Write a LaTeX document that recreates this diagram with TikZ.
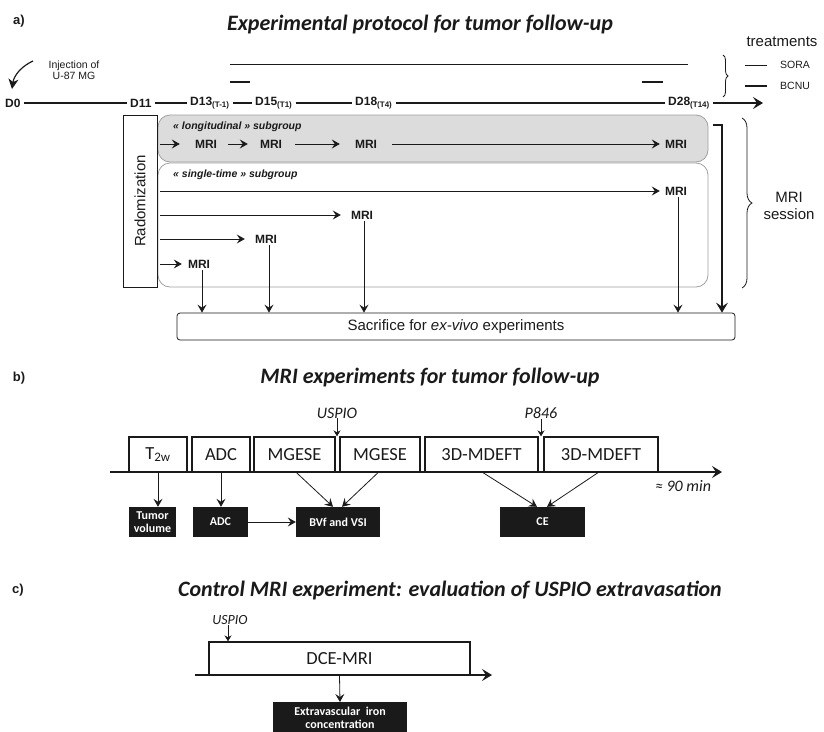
\documentclass[tikz,border=0pt]{standalone}
\usepackage{fontspec}
\setmainfont{Liberation Sans}
\newfontfamily\calfont{Carlito}
\usepackage{tikz}
\usetikzlibrary{arrows.meta,decorations.pathreplacing}
\definecolor{ink}{HTML}{1A1A1A}
\definecolor{grpfill}{HTML}{DCDCDC}
\definecolor{grpline}{HTML}{A0A0A0}
\tikzset{
  day/.style={text=ink, font=\bfseries\fontsize{12}{12}\selectfont, inner sep=3pt, anchor=west},
  mri/.style={text=ink, font=\bfseries\fontsize{12}{12}\selectfont, inner sep=2pt},
  sub/.style={text=ink, font=\bfseries\itshape\fontsize{10.5}{10.5}\selectfont, anchor=west, inner sep=0pt},
  small/.style={text=ink, font=\fontsize{10.5}{11}\selectfont, align=center, inner sep=0pt},
  big/.style={text=ink, font=\fontsize{15}{17}\selectfont, align=center, inner sep=0pt},
  ttl/.style={text=ink, font=\calfont\bfseries\itshape\fontsize{22}{22}\selectfont, inner sep=0pt},
  part/.style={text=ink, font=\bfseries\fontsize{13}{13}\selectfont, inner sep=0pt},
  inj/.style={text=ink, font=\calfont\itshape\fontsize{16}{16}\selectfont, inner sep=0pt},
  tline/.style={draw=ink, line width=1.5pt},
  arr/.style={draw=ink, line width=0.8pt, -{Stealth[length=8pt,width=9pt,inset=3pt]}},
  arrs/.style={draw=ink, line width=0.8pt, -{Stealth[length=6pt,width=7pt,inset=2pt]}},
  bigarr/.style={draw=ink, line width=1.2pt, -{Stealth[length=10pt,width=12pt,inset=4pt]}},
  grp/.style={draw=grpline, line width=0.8pt, rounded corners=12pt},
  brc/.style={draw=ink, line width=0.8pt, decorate},
  seq/.style={draw=ink, line width=1.3pt, text=ink, font=\calfont\fontsize{18.5}{18.5}\selectfont, inner sep=0pt, minimum height=35},
  res/.style={fill=ink, text=white, font=\calfont\bfseries\fontsize{12}{13}\selectfont, align=center, inner sep=1pt, minimum height=30},
}

\begin{document}
\begin{tikzpicture}[x=1pt,y=-1pt]
  \useasboundingbox (0,0) rectangle (824,731);

  % a) protocol
  \node[part] (pa) at (19,21) {a)};
  \node[ttl] (ta) at (420,25) {Experimental protocol for tumor follow-up};

  \node[small] (inj) at (74,70) {Injection of\\U-87 MG};
  \coordinate (injs) at (33,61);
  \coordinate (injt) at (12,89);
  \draw[draw=ink, line width=1.2pt, -{Stealth[length=10pt,width=10pt,inset=3pt]}] (injs) .. controls (22,66) and (14,75) .. (injt);

  \node[day] (d0) at (2,103) {D0};
  \node[day] (d11) at (127,103) {D11};
  \node[day] (d13) at (187,103) {D13\textsubscript{(T-1)}};
  \node[day] (d15) at (252,103) {D15\textsubscript{(T1)}};
  \node[day] (d18) at (352,103) {D18\textsubscript{(T4)}};
  \node[day] (d28) at (665,103) {D28\textsubscript{(T14)}};
  \coordinate (dend) at (763,103);
  \draw[tline] (d0) -- (d11);
  \draw[tline] (d11) -- (d13);
  \draw[tline] (d13) -- (d15);
  \draw[tline] (d15) -- (d18);
  \draw[tline] (d18) -- (d28);
  \draw[tline, -{Stealth[length=10pt,width=12pt,inset=4pt]}] (d28) -- (dend);

  % treatments
  \draw[draw=ink, line width=0.8pt] (230,64) -- (688,64);
  \draw[draw=ink, line width=2.6pt] (230,82) -- (250,82);
  \draw[draw=ink, line width=2.6pt] (642,82) -- (663,82);
  \draw[brc, decoration={brace,amplitude=5pt}] (723,55) -- (723,97);
  \node[big] (trt) at (782,42) {treatments};
  \draw[draw=ink, line width=0.8pt] (745,65) -- (767,65);
  \draw[draw=ink, line width=2.6pt] (745,86) -- (767,86);
  \node[small, anchor=west] (sora) at (780,65) {SORA};
  \node[small, anchor=west] (bcnu) at (780,86) {BCNU};

  % subgroups
  \draw[grp, fill=grpfill] (158,115) rectangle (708,162);
  \draw[grp] (158,163) rectangle (708,287);
  \node[big, draw=ink, line width=0.8pt, fill=white, rotate=90, minimum width=172, minimum height=34] (rnd) at (140,201) {Radomization};

  \node[sub] (lg) at (173,127) {« longitudinal » subgroup};
  \coordinate (l0) at (160,144);
  \node[mri] (l1) at (206,144) {MRI};
  \node[mri] (l2) at (271,144) {MRI};
  \node[mri] (l3) at (366,144) {MRI};
  \node[mri] (l4) at (676,144) {MRI};
  \draw[arr, shorten >=13pt] (l0) -- (l1);
  \draw[arr, shorten <=9pt, shorten >=10pt] (l1) -- (l2);
  \draw[arr, shorten <=11pt, shorten >=13pt] (l2) -- (l3);
  \draw[arr, shorten <=13pt, shorten >=3pt] (l3) -- (l4);

  \node[sub] (sg) at (173,175) {« single-time » subgroup};
  \coordinate (s0a) at (160,191);
  \coordinate (s0b) at (160,215);
  \coordinate (s0c) at (160,239);
  \coordinate (s0d) at (160,264);
  \node[mri] (s1) at (676,191) {MRI};
  \node[mri] (s2) at (362,215) {MRI};
  \node[mri] (s3) at (266,239) {MRI};
  \node[mri] (s4) at (199,264) {MRI};
  \draw[arr, shorten >=3pt] (s0a) -- (s1);
  \draw[arr, shorten >=8pt] (s0b) -- (s2);
  \draw[arr, shorten >=8pt] (s0c) -- (s3);
  \draw[arr, shorten >=4pt] (s0d) -- (s4);

  \node[big, draw=ink, line width=0.8pt, rounded corners=3pt, minimum width=558, minimum height=27] (sac) at (456,326.5) {Sacrifice for \textit{ex-vivo} experiments};
  \draw[arr] ([xshift=3pt]s4.south) -- ([xshift=3pt]s4.south |- sac.north);
  \draw[arr] ([xshift=3pt]s3.south) -- ([xshift=3pt]s3.south |- sac.north);
  \draw[arr] ([xshift=2pt]s2.south) -- ([xshift=2pt]s2.south |- sac.north);
  \draw[arr] ([xshift=2pt]s1.south) -- ([xshift=2pt]s1.south |- sac.north);
  \coordinate (ls) at (713,125);
  \coordinate (lc) at (722,125);
  \draw[bigarr] (ls) -- (lc) -- (lc |- sac.north);

  \draw[brc, decoration={brace,amplitude=10pt}] (742,118) -- (742,288);
  \node[big] (ses) at (789,206) {MRI\\session};

  % b) MRI experiments
  \node[part] (pb) at (19,378) {b)};
  \node[ttl] (tb) at (430,378) {MRI experiments for tumor follow-up};

  \node[seq, minimum width=58] (t2w) at (158,454.5) {T\textsubscript{2w}};
  \node[seq, minimum width=58] (adc) at (221,454.5) {ADC};
  \node[seq, minimum width=81] (mg1) at (294.5,454.5) {MGESE};
  \node[seq, minimum width=80] (mg2) at (380,454.5) {MGESE};
  \node[seq, minimum width=113] (md1) at (481.5,454.5) {3D-MDEFT};
  \node[seq, minimum width=114] (md2) at (601,454.5) {3D-MDEFT};
  \coordinate (bt0) at (110,472);
  \coordinate (bt1) at (722,472);
  \draw[tline, -{Stealth[length=10pt,width=12pt,inset=4pt]}] (bt0) -- (bt1);

  \node[inj] (usp) at (337,413) {USPIO};
  \node[inj] (p846) at (541,413) {P846};
  \draw[arrs] (usp) -- (usp |- mg1.north);
  \draw[arrs] (p846) -- (p846 |- md1.north);
  \node[inj] (dur) at (683,486) {≈ 90 min};

  \node[res, minimum width=47] (tum) at (152.5,522) {Tumor\\volume};
  \node[res, minimum width=55] (adcr) at (220.5,522) {ADC};
  \node[res, minimum width=84] (bvf) at (338,522) {BVf and VSI};
  \node[res, minimum width=85] (ce) at (542.5,522) {CE};
  \draw[arr] (t2w.south) -- (t2w.south |- tum.north);
  \draw[arr] (adc.south) -- (adc.south |- adcr.north);
  \draw[arr] (adcr) -- (bvf);
  \draw[arr] ([xshift=2pt]mg1.south) -- ([xshift=-5pt]bvf.north);
  \draw[arr] ([xshift=-2pt]mg2.south) -- ([xshift=4pt]bvf.north);
  \draw[arr] ([xshift=1.5pt]md1.south) -- ([xshift=-5.5pt]ce.north);
  \draw[arr] ([xshift=-3pt]md2.south) -- ([xshift=4.5pt]ce.north);

  % c) control experiment
  \node[part] (pc) at (18,590) {c)};
  \node[ttl] (tc) at (450,590) {Control MRI experiment: evaluation of USPIO extravasation};

  \node[seq, minimum width=261, minimum height=33] (dce) at (339.5,658.5) {DCE-MRI};
  \coordinate (ct0) at (195,675);
  \coordinate (ct1) at (492,675);
  \draw[tline, -{Stealth[length=10pt,width=12pt,inset=4pt]}] (ct0) -- (ct1);
  \node[inj, font=\calfont\itshape\fontsize{14}{14}\selectfont] (usc) at (230,620) {USPIO};
  \draw[arrs] ([xshift=-2pt]usc.south) -- ([xshift=-2pt]usc.south |- dce.north);
  \node[res, anchor=north, font=\calfont\bfseries\fontsize{12}{12.5}\selectfont, minimum width=134, minimum height=31] (ext) at (340,702) {Extravascular\ \ iron\\concentration};
  \draw[arr] (dce.south) -- (ext.north);
\end{tikzpicture}
\end{document}
